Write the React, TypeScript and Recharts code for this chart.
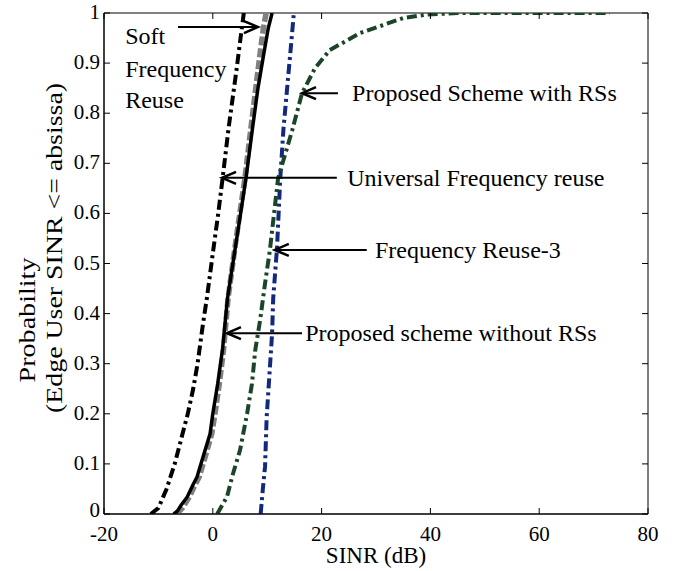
import { LineChart, Line, XAxis, YAxis, ReferenceLine, ReferenceDot, ReferenceArea, Label } from "recharts";

const FONT = "Liberation Serif";
const PLOT = { left: 104, right: 648, top: 13, bottom: 514 };

const xTicks = [-20, 0, 20, 40, 60, 80];
const yTicks = [0, 0.1, 0.2, 0.3, 0.4, 0.5, 0.6, 0.7, 0.8, 0.9, 1];
const yTickLabels = ["0", "0.1", "0.2", "0.3", "0.4", "0.5", "0.6", "0.7", "0.8", "0.9", "1"];

// CDF curves: [SINR dB, probability]
const softFR = [
  [-11.4, 0], [-10, 0.012], [-8.5, 0.05], [-7, 0.1], [-5.8, 0.15], [-4.6, 0.2], [-3.6, 0.25],
  [-2.8, 0.3], [-1.8, 0.38], [-1.1, 0.43], [0, 0.52], [1, 0.6], [1.8, 0.67], [2.9, 0.77],
  [3.6, 0.826], [4.4, 0.89], [5.1, 0.95], [5.7, 1],
];
const universalFR = [
  [-7.2, 0], [-6.5, 0.006], [-5.8, 0.018], [-4.7, 0.034], [-3.8, 0.055], [-2.9, 0.074], [-1.8, 0.114],
  [-0.5, 0.16], [0, 0.2], [0.9, 0.26], [1.8, 0.33], [2.7, 0.43], [4.4, 0.55], [6.1, 0.67],
  [7.3, 0.77], [8.3, 0.85], [9.4, 0.92], [10.2, 0.97], [10.9, 1],
];
const withoutRS = [
  [-6.6, 0], [-5.6, 0.012], [-4.3, 0.034], [-3.4, 0.055], [-2.5, 0.074], [-1.4, 0.114], [-0.2, 0.16],
  [0.4, 0.2], [1.2, 0.26], [2, 0.33], [2.8, 0.43], [4.3, 0.55], [5.9, 0.67], [7, 0.77],
  [7.9, 0.85], [8.7, 0.92], [9.3, 0.97], [9.8, 1],
];
const reuse3 = [
  [8.8, 0], [9.2, 0.05], [9.6, 0.094], [9.9, 0.193], [10.5, 0.293], [10.9, 0.36], [11.1, 0.43],
  [11.8, 0.53], [12.4, 0.67], [13, 0.77], [14, 0.89], [14.5, 0.95], [14.9, 1],
];
const withRS = [
  [0.8, 0], [2.6, 0.034], [3.7, 0.08], [5, 0.127], [6.3, 0.2], [7.2, 0.26], [7.8, 0.327],
  [8.7, 0.387], [9.6, 0.46], [10.5, 0.527], [12, 0.67], [14.6, 0.766], [16.4, 0.84],
  [18.8, 0.89], [21.5, 0.926], [27.1, 0.96], [31.3, 0.976], [35, 0.99], [39.4, 0.997],
  [45, 1], [73, 1],
];

const SERIES = [
  { name: "Proposed scheme without RSs", points: withoutRS, color: "#808080", width: 5.5, dash: "9 3" },
  { name: "Universal Frequency reuse", points: universalFR, color: "#000000", width: 3.5, dash: undefined },
  { name: "Soft Frequency Reuse", points: softFR, color: "#000000", width: 4, dash: "10 4 3 4" },
  { name: "Frequency Reuse-3", points: reuse3, color: "#13287f", width: 4, dash: "10 4 3 4" },
  { name: "Proposed Scheme with RSs", points: withRS, color: "#1b4527", width: 4, dash: "10 4 3 4" },
];

// annotation arrows: tail -> head, in data units
const arrows = [
  { x1: -6.4, y1: 0.972, x2: 8.3, y2: 0.972 },
  { x1: 23.0, y1: 0.84, x2: 16.4, y2: 0.84 },
  { x1: 22.8, y1: 0.671, x2: 1.7, y2: 0.671 },
  { x1: 28.3, y1: 0.527, x2: 11.4, y2: 0.527 },
  { x1: 16.4, y1: 0.361, x2: 2.6, y2: 0.361 },
];
const notes = [
  { text: "Soft", x: -16.1, y: 0.954 },
  { text: "Frequency", x: -16.1, y: 0.888 },
  { text: "Reuse", x: -16.1, y: 0.826 },
  { text: "Proposed Scheme with RSs", x: 25.6, y: 0.84 },
  { text: "Universal Frequency reuse", x: 24.7, y: 0.671 },
  { text: "Frequency Reuse-3", x: 29.8, y: 0.527 },
  { text: "Proposed scheme without RSs", x: 17.0, y: 0.361 },
];

const toRows = (pts: number[][]) => pts.map(([x, y]) => ({ x, y }));

function XTick(props: any) {
  const { x, payload } = props;
  return (
    <g>
      <line x1={x} x2={x} y1={PLOT.bottom} y2={PLOT.bottom - 6} stroke="#000" />
      <line x1={x} x2={x} y1={PLOT.top} y2={PLOT.top + 6} stroke="#000" />
      <text x={x} y={PLOT.bottom + 27} textAnchor="middle" style={{ fontFamily: FONT, fontSize: 21 }} fill="#000">
        {payload.value}
      </text>
    </g>
  );
}

function YTick(props: any) {
  const { y, index } = props;
  return (
    <g>
      <line x1={PLOT.left} x2={PLOT.left + 6} y1={y} y2={y} stroke="#000" />
      <line x1={PLOT.right} x2={PLOT.right - 6} y1={y} y2={y} stroke="#000" />
      <text x={PLOT.left - 4} y={y + (index === 0 ? 3 : 6)} textAnchor="end" style={{ fontFamily: FONT, fontSize: 21 }} fill="#000">
        {yTickLabels[index]}
      </text>
    </g>
  );
}

function Arrow(props: any) {
  const { x1, y1, x2, y2 } = props;
  const dir = x2 < x1 ? 1 : -1;
  return (
    <g>
      <line x1={x1} y1={y1} x2={x2 + dir * 3} y2={y2} stroke="#000" strokeWidth={2} />
      <path
        d={`M${x2 + dir * 14},${y2 - 6} L${x2},${y2} L${x2 + dir * 14},${y2 + 6}`}
        fill="none"
        stroke="#000"
        strokeWidth={2.5}
      />
    </g>
  );
}

function noteShape(text: string) {
  return (props: any) => (
    <text x={props.cx} y={props.cy + 8} style={{ fontFamily: FONT, fontSize: 24 }} fill="#000">
      {text}
    </text>
  );
}

function XTitle(props: any) {
  const { x, y, width } = props.viewBox;
  return (
    <text x={x + width / 2} y={y + 49} textAnchor="middle" style={{ fontFamily: FONT, fontSize: 23 }} fill="#000">
      SINR (dB)
    </text>
  );
}

function YTitle() {
  return (
    <g style={{ fontFamily: FONT, fontSize: 24 }} fill="#000">
      <text x={0} y={0} textAnchor="middle" transform="translate(35,320) rotate(-90)" textLength={125} lengthAdjust="spacingAndGlyphs">
        Probability
      </text>
      <text x={0} y={0} textAnchor="middle" transform="translate(62,248) rotate(-90)" textLength={330} lengthAdjust="spacingAndGlyphs">
        (Edge User SINR &lt;= absissa)
      </text>
    </g>
  );
}

export default function App() {
  return (
    <div style={{ position: "absolute", left: 0, top: 0, width: 683, height: 571, background: "#fff", fontFamily: FONT }}>
      <LineChart width={683} height={571} margin={{ top: 13, right: 35, bottom: 0, left: 0 }}>
        <XAxis
          type="number"
          dataKey="x"
          domain={[-20, 80]}
          ticks={xTicks}
          height={57}
          tick={<XTick />}
          tickLine={false}
          axisLine={{ stroke: "#000" }}
          allowDataOverflow
        >
          <Label content={<XTitle />} />
        </XAxis>
        <YAxis
          type="number"
          dataKey="y"
          domain={[0, 1]}
          ticks={yTicks}
          width={104}
          tick={<YTick />}
          tickLine={false}
          axisLine={{ stroke: "#000" }}
          allowDataOverflow
        >
          <Label content={<YTitle />} />
        </YAxis>
        <ReferenceArea x1={-20} x2={80} y1={0} y2={1} fill="none" stroke="#000" strokeWidth={1} />
        {SERIES.map((s) => (
          <Line
            key={s.name}
            name={s.name}
            data={toRows(s.points)}
            dataKey="y"
            type="linear"
            stroke={s.color}
            strokeWidth={s.width}
            strokeDasharray={s.dash}
            dot={false}
            isAnimationActive={false}
          />
        ))}
        {arrows.map((a, i) => (
          <ReferenceLine
            key={`arrow-${i}`}
            segment={[{ x: a.x1, y: a.y1 }, { x: a.x2, y: a.y2 }]}
            shape={<Arrow />}
            ifOverflow="visible"
          />
        ))}
        {notes.map((n, i) => (
          <ReferenceDot key={`note-${i}`} x={n.x} y={n.y} r={0} shape={noteShape(n.text)} ifOverflow="visible" />
        ))}
      </LineChart>
    </div>
  );
}
